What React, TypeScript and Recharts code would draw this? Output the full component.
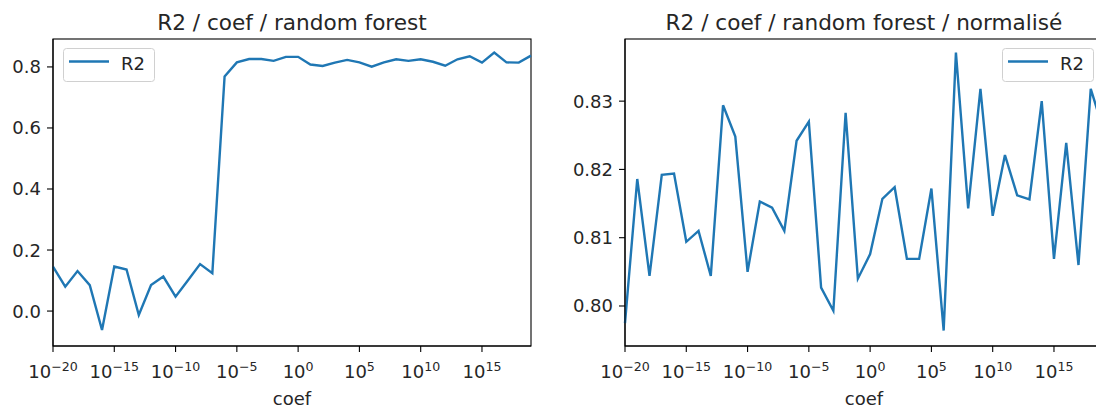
import React from "react";
import { LineChart, Line, XAxis, YAxis, Legend } from "recharts";

// exponents of coef (x axis is log10 of coef)
const COEF_EXP = [
  -20, -19, -18, -17, -16, -15, -14, -13, -12, -11, -10, -9, -8, -7, -6, -5, -4, -3, -2, -1,
  0, 1, 2, 3, 4, 5, 6, 7, 8, 9, 10, 11, 12, 13, 14, 15, 16, 17, 18, 19,
];

const R2_RAW = [
  0.146, 0.08, 0.131, 0.085, -0.062, 0.146, 0.136, -0.013, 0.085, 0.113,
  0.047, 0.1, 0.154, 0.124, 0.769, 0.815, 0.826, 0.826, 0.82, 0.833,
  0.833, 0.808, 0.803, 0.814, 0.823, 0.815, 0.801, 0.815, 0.825, 0.82,
  0.825, 0.817, 0.804, 0.825, 0.835, 0.814, 0.847, 0.815, 0.814, 0.837,
];

const R2_NORM = [
  0.7975, 0.8186, 0.8044, 0.8192, 0.8194, 0.8094, 0.811, 0.8044, 0.8294, 0.8248,
  0.805, 0.8153, 0.8144, 0.811, 0.8242, 0.827, 0.8027, 0.7993, 0.8283, 0.804,
  0.8076, 0.8157, 0.8174, 0.8069, 0.8069, 0.8172, 0.7964, 0.8371, 0.8143, 0.8318,
  0.8132, 0.8221, 0.8162, 0.8156, 0.83, 0.8069, 0.8239, 0.806, 0.8318, 0.826,
];

const X_TICKS = [-20, -15, -10, -5, 0, 5, 10, 15];
const RAW_TICKS = [0, 0.2, 0.4, 0.6, 0.8];
const NORM_TICKS = [0.8, 0.81, 0.82, 0.83];

const BLUE = "#1f77b4";
const FONT = "'DejaVu Sans', sans-serif";
const INK = "#262626";

const W = 548;
const H = 408;
const M = { top: 39, right: 17, bottom: 0, left: 0 };
const Y_AXIS_W = 53;
const X_AXIS_H = 62;

const XTick = (props: any) => {
  const { x, y, payload } = props;
  const e = payload.value as number;
  const exp = e < 0 ? `\u2212${-e}` : `${e}`;
  return (
    <text x={x} y={y + 20} textAnchor="middle" fontFamily={FONT} fontSize={18} fill={INK}>
      10
      <tspan fontSize={12.6} dy={-7}>
        {exp}
      </tspan>
    </text>
  );
};

const makeYTick = (digits: number) => (props: any) => {
  const { x, y, payload } = props;
  return (
    <text x={x} y={y + 6.5} textAnchor="end" fontFamily={FONT} fontSize={18} fill={INK}>
      {(payload.value as number).toFixed(digits)}
    </text>
  );
};

const LegendBox = () => (
  <svg width={93} height={35} style={{ display: "block" }}>
    <rect x={0.5} y={0.5} width={91} height={33} rx={3} fill="rgba(255,255,255,0.8)" stroke="#d0d0d0" />
    <line x1={6} x2={46} y1={13.5} y2={13.5} stroke={BLUE} strokeWidth={2.6} />
    <text x={58} y={21.5} fontFamily={FONT} fontSize={18} fill={INK}>
      R2
    </text>
  </svg>
);

type PanelProps = {
  title: string;
  values: number[];
  yDomain: [number, number];
  yTicks: number[];
  digits: number;
  legendLeft: number;
};

function Panel({ title, values, yDomain, yTicks, digits, legendLeft }: PanelProps) {
  const data = COEF_EXP.map((e, i) => ({ exp: e, r2: values[i] }));
  // plot box (axes frame)
  const px = M.left + Y_AXIS_W;
  const pw = W - M.right - px;
  const py = M.top;
  const ph = H - M.bottom - X_AXIS_H - py;
  const plotCenter = px + pw / 2;
  return (
    <LineChart width={W} height={H} data={data} margin={M}>
      <XAxis
        dataKey="exp"
        type="number"
        domain={[-20, 19]}
        ticks={X_TICKS}
        interval={0}
        height={X_AXIS_H}
        tickSize={6}
        tickMargin={6}
        tick={<XTick />}
        axisLine={{ stroke: "#000", strokeWidth: 1.1 }}
        tickLine={{ stroke: "#000", strokeWidth: 1.1 }}
      />
      <YAxis
        type="number"
        domain={yDomain}
        ticks={yTicks}
        interval={0}
        width={Y_AXIS_W}
        tickSize={6}
        tickMargin={6}
        tick={makeYTick(digits)}
        axisLine={{ stroke: "#000", strokeWidth: 1.1 }}
        tickLine={{ stroke: "#000", strokeWidth: 1.1 }}
        allowDataOverflow
      />
      <Line
        type="linear"
        dataKey="r2"
        name="R2"
        stroke={BLUE}
        strokeWidth={2.4}
        dot={false}
        isAnimationActive={false}
      />
      <rect x={px} y={py} width={pw} height={ph} fill="none" stroke="#000" strokeWidth={1.1} />
      <Legend
        layout="horizontal"
        verticalAlign="middle"
        align="center"
        content={() => <LegendBox />}
        wrapperStyle={{ left: legendLeft, top: 48, width: "auto", height: "auto" }}
      />
      <text x={plotCenter} y={29.5} textAnchor="middle" fontFamily={FONT} fontSize={21.6} fill={INK}>
        {title}
      </text>
      <text x={plotCenter} y={405} textAnchor="middle" fontFamily={FONT} fontSize={18} fill={INK}>
        coef
      </text>
    </LineChart>
  );
}

export default function App() {
  return (
    <div
      style={{
        position: "absolute",
        left: 0,
        top: 0,
        width: 1096,
        height: 408,
        overflow: "hidden",
        background: "#fff",
      }}
    >
      <div style={{ position: "absolute", left: 0, top: 0 }}>
        <Panel
          title="R2 / coef / random forest"
          values={R2_RAW}
          yDomain={[-0.1145, 0.8915]}
          yTicks={RAW_TICKS}
          digits={1}
          legendLeft={63}
        />
      </div>
      <div style={{ position: "absolute", left: 572, top: 0 }}>
        <Panel
          title="R2 / coef / random forest / normalisé"
          values={R2_NORM}
          yDomain={[0.79414, 0.8391]}
          yTicks={NORM_TICKS}
          digits={2}
          legendLeft={430}
        />
      </div>
    </div>
  );
}
